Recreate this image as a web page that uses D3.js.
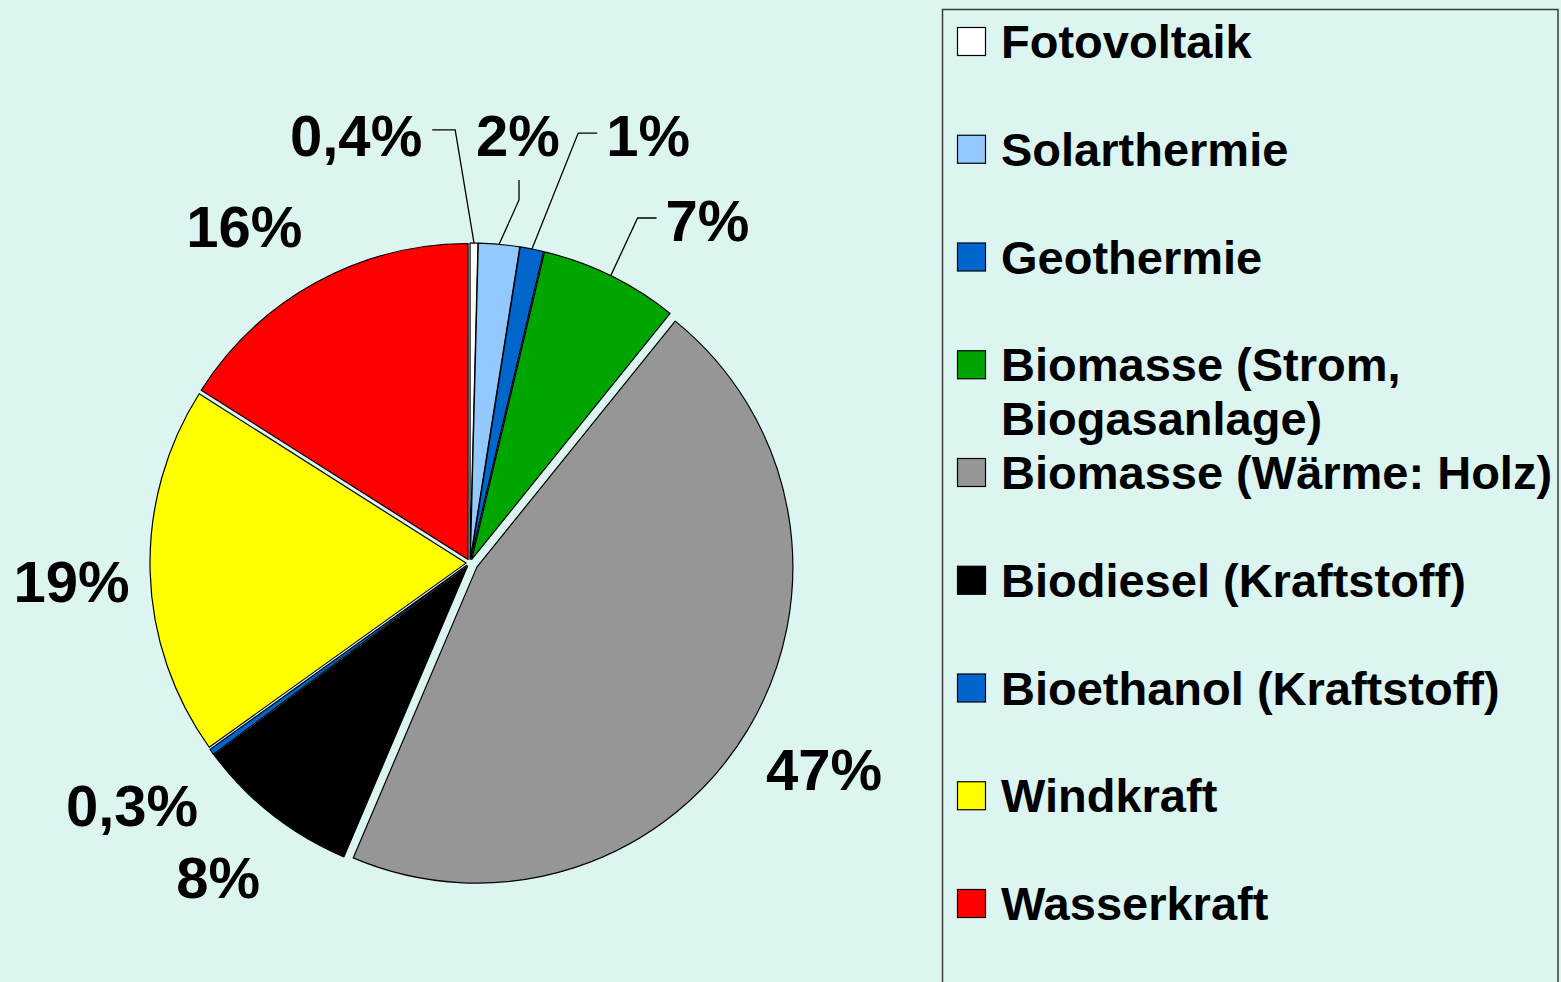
<!DOCTYPE html>
<html><head><meta charset="utf-8">
<script src="https://cdn.jsdelivr.net/npm/d3@7"></script>
<style>
html,body{margin:0;padding:0;background:#DCF5F1;overflow:hidden}
svg{display:block}
text{font-family:"Liberation Sans",Arial,sans-serif;font-weight:bold;fill:#000}
</style></head>
<body>
<svg id="chart" width="1561" height="982"></svg>
<script>
// ---- data ----
const categories = ["Fotovoltaik","Solarthermie","Geothermie","Biomasse (Strom, Biogasanlage)","Biomasse (Wärme: Holz)","Biodiesel (Kraftstoff)","Bioethanol (Kraftstoff)","Windkraft","Wasserkraft"];
const legendLines = [["Fotovoltaik"],["Solarthermie"],["Geothermie"],["Biomasse (Strom,","Biogasanlage)"],["Biomasse (Wärme: Holz)"],["Biodiesel (Kraftstoff)"],["Bioethanol (Kraftstoff)"],["Windkraft"],["Wasserkraft"]];
const values = [0.4, 2.1, 1.2, 7.1, 45.6, 8.4, 0.3, 18.9, 16.0];
const valueLabels = ["0,4%","2%","1%","7%","47%","8%","0,3%","19%","16%"];
const colors = ["#FFFFFF","#93C9FF","#0066CC","#00A600","#969696","#000000","#0066CC","#FFFF00","#FF0000"];

// ---- layout (styling) ----
const cx = 470, cy = 563, R = 316;
const explode = [4,4,4,4,8,4,4,4,4];
// label placement: [angle in degrees clockwise from top, distance from centre]
const labelPolar = [[345.1,443],[6.4,430.7],[22.6,463.5],[34.7,417.2],[120.2,409.6],[218.7,402.7],[234.4,415.7],[267.4,398.9],[326.2,405.9]];
// leader type: null | "right" | "left" | "down"
const leaderType = ["right","down","left","left",null,null,null,null,null];

const svg = d3.select("#chart");
const g = svg.append("g").attr("transform",`translate(${cx},${cy})`);

const pie = d3.pie().sort(null).value(d=>d).startAngle(0).endAngle(2*Math.PI);
const arcs = pie(values);
const arc = d3.arc().innerRadius(0).outerRadius(R);

function pol(a, r){ return [r*Math.sin(a), -r*Math.cos(a)]; }

g.selectAll("path.slice").data(arcs).join("path")
  .attr("class","slice")
  .attr("d", arc)
  .attr("transform",(d,i)=>{ const m=(d.startAngle+d.endAngle)/2; const p=pol(m,explode[i]); return `translate(${p[0]},${p[1]})`; })
  .attr("fill",(d,i)=>colors[i])
  .attr("stroke","#000").attr("stroke-width",1.2).attr("stroke-linejoin","round");

const fs = 58;
const lbl = g.selectAll("text.lbl").data(arcs).join("text")
  .attr("class","lbl")
  .attr("font-size",fs)
  .attr("text-anchor","middle")
  .attr("x",(d,i)=>pol(labelPolar[i][0]*Math.PI/180,labelPolar[i][1])[0])
  .attr("y",(d,i)=>pol(labelPolar[i][0]*Math.PI/180,labelPolar[i][1])[1])
  .attr("dy","0.36em")
  .text((d,i)=>valueLabels[i]);

// leader lines
lbl.each(function(d,i){
  const t = leaderType[i]; if(!t) return;
  const w = this.getComputedTextLength();
  const p = pol(labelPolar[i][0]*Math.PI/180,labelPolar[i][1]);
  const m = (d.startAngle+d.endAngle)/2;
  const e = pol(m, R+explode[i]);
  let pts;
  if(t==="right"){ const y=p[1]-5; pts=[[p[0]+w/2+10,y],[p[0]+w/2+33,y],e]; }
  else if(t==="left"){ const y=p[1]-2; pts=[[p[0]-w/2-9,y],[p[0]-w/2-28,y],e]; }
  else { pts=[[p[0]+1,p[1]+45],[p[0]+1,p[1]+65],e]; }
  g.append("path").attr("d",d3.line()(pts)).attr("fill","none").attr("stroke","#000").attr("stroke-width",1.3);
});

// legend
const lg = svg.append("g");
lg.append("rect").attr("x",942.5).attr("y",9.5).attr("width",615.5).attr("height",1000)
  .attr("fill","#DCF5F1").attr("stroke","#3a3a3a").attr("stroke-width",1.5);
const step = 107.75, base0 = 58;
const items = lg.selectAll("g.item").data(categories).join("g").attr("class","item")
  .attr("transform",(d,i)=>`translate(0,${base0+i*step})`);
items.append("rect").attr("x",957.5).attr("y",-30.5).attr("width",28).attr("height",28)
  .attr("fill",(d,i)=>colors[i]).attr("stroke","#000").attr("stroke-width",1.2);
items.append("text").attr("x",1001).attr("y",0).attr("font-size",47)
  .each(function(d,i){
    const t=d3.select(this);
    legendLines[i].forEach((ln,j)=>t.append("tspan").attr("x",1001).attr("dy",j?54:0).text(ln));
  });
</script>
</body></html>
